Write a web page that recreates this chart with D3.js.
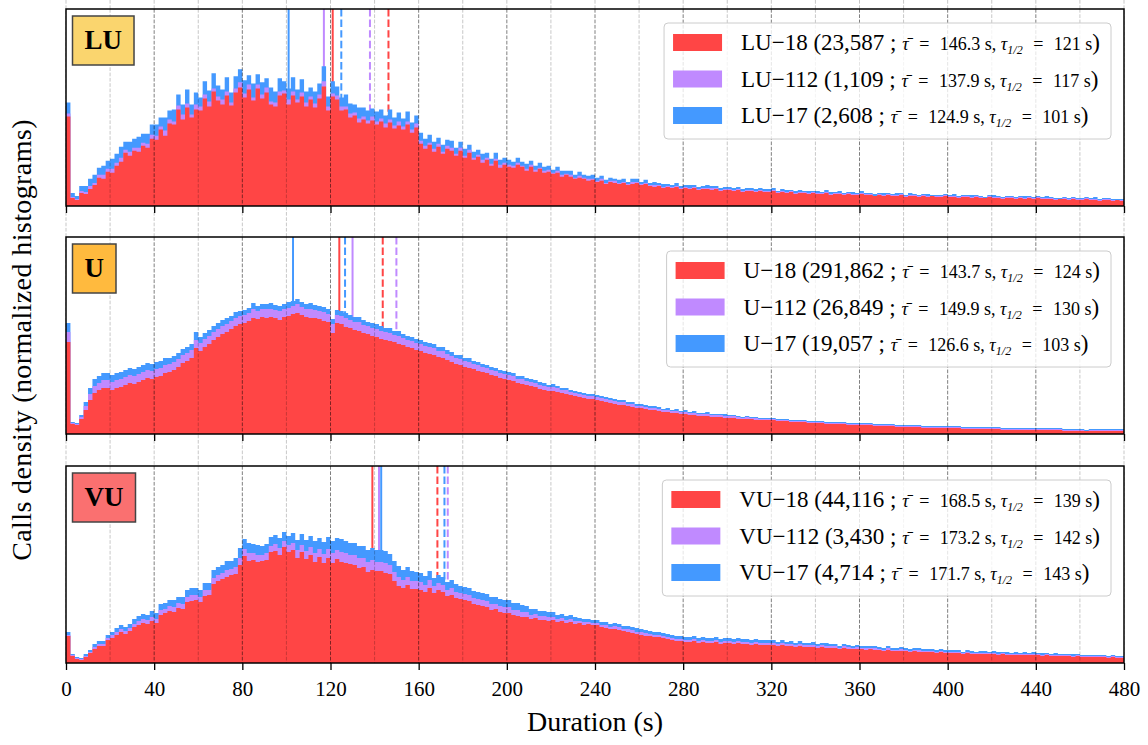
<!DOCTYPE html>
<html><head><meta charset="utf-8">
<script src="https://cdn.jsdelivr.net/npm/d3@7"></script>
<style>
body{margin:0;background:#fff;}
svg text{font-family:"Liberation Serif","Times New Roman",serif;fill:#000;}
</style></head><body>
<svg id="chart" width="1148" height="745"></svg>
<script>
// ---------------- DATA ----------------
const binWidth = 2;               // seconds per histogram bin
const xTicks = [0,40,80,120,160,200,240,280,320,360,400,440,480];
const gridStep = 20;
const groups = ["LU","U","VU"];
const groupColors = ["#fad56e","#ffba3e","#fa7070"];
const seriesColors = ["#ff4545","#c08aff","#4499ff"];
const seriesNames = [["LU−18","LU−112","LU−17"],["U−18","U−112","U−17"],["VU−18","VU−112","VU−17"]];
const seriesCounts = [["23,587","1,109","2,608"],["291,862","26,849","19,057"],["44,116","3,430","4,714"]];
const seriesMeans = [[146.3,137.9,124.9],[143.7,149.9,126.6],[168.5,173.2,171.7]];
const seriesMedians = [[121,117,101],[124,130,103],[139,142,143]];
const yLimits = [196,197,197];    // relative density, axis upper limit

// relative density per 2 s bin (a.u.)
const LU_18 = [
89,8,6,13,12,17,21,28,27,34,33,40,44,53,50,55,54,60,58,67,
66,76,70,82,81,96,86,98,88,96,95,107,99,114,105,101,110,100,113,118,
108,116,105,117,107,113,101,99,110,112,101,110,103,109,99,106,98,107,119,95,
109,106,95,96,88,90,83,86,82,85,81,84,78,83,77,80,76,81,73,78,
62,57,61,54,59,52,57,55,50,55,48,53,46,49,43,46,40,45,38,41,
39,38,41,39,35,39,34,37,33,34,32,33,29,31,29,27,28,27,25,26,
24,25,22,24,23,22,23,21,22,23,21,22,20,19,20,18,19,18,19,17,
18,17,18,16,17,17,16,17,15,16,16,15,16,14,15,15,14,15,14,14,
15,13,14,13,14,12,13,13,12,13,12,12,13,11,12,12,11,12,11,11,
12,11,11,10,11,10,11,10,10,11,9,10,10,9,10,9,10,9,9,10,
9,9,8,9,9,8,9,8,8,9,8,8,7,8,8,7,8,7,8,7,
8,7,7,7,6,7,7,6,7,6,6,7,6,6,5,6,6,5,6,5];
const LU_112 = [
3,1,1,2,2,3,2,3,4,3,4,3,4,3,4,3,4,3,4,4,
4,3,5,4,3,4,5,4,3,5,4,4,5,3,4,5,4,3,4,5,
4,5,3,4,4,5,3,4,4,3,5,4,3,4,4,3,4,4,5,4,
3,4,4,3,4,3,4,3,3,4,3,3,4,3,3,4,3,3,3,4,
3,3,2,3,3,2,3,3,2,3,2,3,2,2,3,2,2,2,3,2,
2,2,2,1,2,2,2,1,2,2,1,2,2,1,2,1,2,1,2,1,
1,2,1,1,2,1,1,1,2,1,1,1,1,2,1,1,1,1,1,1,
1,1,1,1,1,1,2,1,1,1,1,1,1,1,1,1,1,1,1,1,
1,1,1,1,1,1,1,1,1,1,1,1,1,1,1,1,1,1,1,1,
1,1,1,0,1,1,1,1,1,1,1,1,1,1,1,1,0,1,1,1,
1,1,1,1,1,1,1,1,0,1,1,1,1,1,1,1,1,1,1,1,
1,1,1,1,1,0,1,1,1,1,1,1,1,1,1,1,1,1,0,1];
const LU_17 = [
11,4,3,5,6,7,8,7,9,8,10,9,11,8,10,9,11,9,10,10,
11,9,13,9,12,11,10,14,10,12,9,13,11,15,11,10,14,10,12,13,
13,9,14,10,12,9,14,11,13,9,11,14,10,13,11,9,12,11,15,10,
12,9,9,12,10,8,11,9,10,8,10,9,8,10,8,9,8,10,7,8,
8,7,8,7,6,7,6,7,6,6,7,5,6,5,6,5,5,6,5,5,
5,4,5,4,5,4,4,5,4,4,3,4,4,3,4,3,4,3,3,4,
3,3,3,3,2,3,3,2,3,3,2,3,2,3,2,3,2,2,3,2,
2,3,2,2,2,3,2,2,2,2,2,2,2,2,2,2,2,2,2,2,
2,1,2,2,1,2,2,1,2,1,2,1,2,2,1,2,1,1,2,1,
2,1,1,2,1,2,1,1,2,1,1,2,1,1,1,2,1,1,1,1,
1,2,1,1,1,2,1,1,1,1,2,1,1,1,1,1,1,2,1,1,
1,1,2,1,1,1,1,1,1,1,1,1,1,2,1,1,1,1,1,1];

const U_18 = [
92,10,9,15,24,34,41,44,46,46,44,46,47,49,51,50,52,54,56,55,
57,58,61,62,64,67,71,73,76,86,83,87,90,94,97,100,102,105,108,110,
111,113,116,115,117,116,117,116,114,117,118,120,121,119,117,116,116,115,113,112,
101,111,110,107,106,104,103,101,100,98,97,95,94,93,92,90,89,87,86,84,
83,81,80,79,77,76,74,72,70,69,67,66,65,63,62,61,59,58,56,55,
54,53,51,50,49,48,47,45,44,43,43,42,41,40,39,38,37,36,35,35,
34,33,32,31,30,29,29,28,27,26,26,25,24,24,23,22,22,21,21,20,
20,19,19,18,18,18,17,17,17,16,16,16,15,15,15,15,14,14,14,14,
14,13,13,13,12,12,12,12,11,11,11,11,10,10,10,10,10,9,9,9,
9,9,9,8,8,8,8,8,7,7,7,7,7,7,6,6,6,6,6,6,
6,6,6,5,5,5,5,5,5,5,5,5,4,4,4,4,4,4,4,4,
4,4,4,4,4,4,3,3,3,3,3,3,3,3,3,3,3,3,3,3];
const U_112 = [
10,1,1,2,4,6,7,7,8,8,8,8,8,8,8,8,8,8,8,8,
8,8,8,8,8,8,8,8,8,8,8,8,8,8,8,8,8,8,8,8,
8,8,9,8,8,9,8,8,9,8,8,8,9,8,8,9,8,8,9,8,
9,8,8,9,8,8,9,8,8,8,8,8,8,8,7,8,7,7,7,7,
7,7,7,7,6,7,6,6,6,6,6,6,5,6,5,5,5,5,5,5,
5,5,4,5,4,4,4,4,4,4,4,4,3,4,3,3,3,3,3,3,
3,3,3,3,3,3,3,2,3,2,2,2,2,2,2,2,2,2,2,2,
2,2,2,2,2,2,2,2,2,2,2,2,2,1,2,1,2,1,1,1,
1,1,1,1,1,1,1,1,1,1,1,1,1,1,1,1,1,1,1,1,
1,1,1,1,1,1,1,1,1,1,1,1,1,1,1,1,1,1,1,1,
1,1,1,1,1,1,1,1,1,1,1,1,1,1,1,1,1,1,1,1,
1,1,1,1,1,1,1,1,1,1,1,0,1,1,1,1,1,1,1,1];
const U_17 = [
9,1,1,2,4,6,7,7,7,7,7,7,7,7,7,7,7,7,7,7,
7,7,7,6,6,6,6,6,6,8,6,6,6,6,6,6,6,5,6,5,
5,5,6,5,5,5,6,5,5,5,6,5,5,5,5,6,5,5,5,5,
5,5,5,5,5,5,5,5,4,5,5,5,4,5,4,5,4,4,4,4,
4,4,4,4,4,4,4,4,3,4,3,4,3,3,3,3,3,3,3,3,
3,3,3,3,3,3,3,3,3,2,3,2,2,2,2,2,2,2,2,2,
2,2,2,2,2,2,2,2,2,2,2,2,2,2,2,1,2,1,2,1,
2,1,2,1,1,2,1,1,1,2,1,1,1,1,1,1,1,1,1,1,
1,1,1,1,1,1,1,1,1,1,1,1,1,1,1,1,1,1,1,1,
1,1,1,1,1,1,1,1,1,1,1,1,1,1,1,1,1,1,1,1,
1,1,1,1,1,1,1,1,1,1,1,1,1,1,1,1,1,1,1,1,
1,1,1,1,1,1,1,1,1,1,1,1,1,1,1,1,1,1,1,1];

const VU_18 = [
27,7,4,3,6,10,14,17,17,23,25,28,31,29,32,36,38,40,39,42,
40,48,50,52,51,55,54,61,62,63,61,67,68,79,82,84,86,88,89,98,
107,102,103,101,102,103,111,112,108,116,111,113,105,111,104,108,101,106,100,105,
100,104,101,100,99,98,95,96,91,93,92,92,90,89,82,77,75,78,74,74,
73,71,75,70,73,71,67,68,65,64,63,62,59,58,57,56,53,54,51,50,
50,48,47,46,46,44,45,43,43,42,43,41,42,40,41,39,40,38,39,38,
38,36,35,34,34,33,32,31,30,29,28,27,27,26,26,25,24,23,22,22,
21,21,22,20,21,20,20,21,19,20,20,19,20,19,19,18,19,18,18,18,
18,17,18,17,17,16,17,16,16,16,15,16,15,15,15,14,15,14,14,14,
14,13,14,13,13,12,13,12,12,12,12,11,12,11,11,11,11,10,11,10,
10,10,10,9,10,9,9,9,9,9,9,8,9,8,8,8,8,8,8,8,
8,7,8,7,7,7,7,7,6,7,6,6,6,6,6,6,5,6,5,5];
const VU_112 = [
1,1,1,1,1,1,2,2,2,2,3,3,3,3,3,3,4,4,4,4,
4,5,4,5,5,5,5,5,6,5,5,6,5,6,6,6,7,6,7,7,
7,8,7,7,6,7,6,7,7,6,7,7,8,7,8,8,9,8,9,9,
10,9,10,10,9,10,10,9,10,10,9,9,10,9,9,9,8,8,8,8,
8,7,8,7,7,7,6,7,6,6,6,6,6,6,6,6,6,5,6,6,
6,5,6,5,5,4,4,4,4,4,3,3,3,3,3,3,2,3,2,2,
2,2,3,2,3,3,2,3,3,2,3,3,2,2,2,2,2,2,2,2,
2,2,2,2,2,2,2,2,2,2,2,2,2,2,2,2,2,2,2,2,
2,2,2,2,2,2,2,2,2,2,2,2,2,2,2,1,2,2,1,2,
1,2,1,2,1,1,2,1,1,2,1,1,1,2,1,1,1,1,1,1,
1,1,1,1,1,1,1,1,1,1,1,1,1,1,1,1,1,1,1,1,
1,1,1,1,1,1,1,1,1,1,1,1,1,1,1,1,1,1,1,1];
const VU_17 = [
3,1,1,1,2,2,3,3,3,3,3,4,4,4,4,5,5,5,5,6,
6,6,6,6,7,6,7,7,7,7,7,7,7,8,8,8,9,8,9,10,
10,10,9,10,9,9,9,9,10,9,9,10,10,11,11,11,12,11,12,12,
12,12,13,12,12,12,12,12,12,12,12,12,12,11,11,11,10,10,10,9,
9,9,9,8,8,8,8,8,8,7,7,7,7,7,7,7,7,7,7,7,
7,7,7,7,6,6,5,5,5,5,5,4,4,4,4,4,3,3,3,3,
3,3,3,3,3,3,3,3,3,4,3,3,3,3,3,3,3,3,3,3,
3,3,3,3,3,3,3,3,3,3,3,3,3,3,3,3,3,3,3,3,
3,2,3,2,3,2,3,2,2,3,2,2,3,2,2,2,2,2,2,2,
2,2,2,2,2,2,2,2,2,2,2,2,2,2,2,2,2,2,2,2,
2,2,2,1,2,2,1,2,2,1,2,2,1,2,1,2,1,2,1,2,
1,2,1,1,2,1,1,1,2,1,1,1,1,1,1,1,1,1,1,1];

const series = [[LU_18,LU_112,LU_17],[U_18,U_112,U_17],[VU_18,VU_112,VU_17]];

// ---------------- LAYOUT ----------------
const svg = d3.select("#chart");
const x = d3.scaleLinear().domain([0,480]).range([66,1124]);
const panelTops = [9,237,466];
const panelH = 197;
const figBottom = panelTops[2] + panelH;

// figure-wide light dashed lines
svg.append("g").selectAll("line").data(d3.range(0, 481, gridStep)).join("line")
  .attr("x1", d => x(d)).attr("x2", d => x(d))
  .attr("y1", 0).attr("y2", figBottom)
  .attr("stroke", "#000").attr("stroke-opacity", 0.22)
  .attr("stroke-width", 1).attr("stroke-dasharray", "3.7,1.6");

groups.forEach((gname, pi) => {
  const top = panelTops[pi], bottom = top + panelH;
  const y = d3.scaleLinear().domain([0, yLimits[pi]]).range([bottom, top]);
  const g = svg.append("g");

  g.append("rect").attr("x", x(0)).attr("y", top)
    .attr("width", x(480) - x(0)).attr("height", panelH).attr("fill", "#fff");

  // mean (dashed) and median (solid) markers
  seriesColors.forEach((col, k) => {
    g.append("line").attr("x1", x(seriesMedians[pi][k])).attr("x2", x(seriesMedians[pi][k]))
      .attr("y1", top).attr("y2", bottom).attr("stroke", col).attr("stroke-width", 2);
    g.append("line").attr("x1", x(seriesMeans[pi][k])).attr("x2", x(seriesMeans[pi][k]))
      .attr("y1", top).attr("y2", bottom).attr("stroke", col).attr("stroke-width", 2)
      .attr("stroke-dasharray", "7.4,3.2");
  });

  // stacked histogram
  const [s0, s1, s2] = series[pi];
  const rows = s0.map((v, i) => ({t: i * binWidth, a: v, b: s1[i], c: s2[i]}));
  const stacked = d3.stack().keys(["a","b","c"])(rows);
  const nB = rows.length;
  for (let k = 2; k >= 0; k--) {
    const layer = stacked[k];
    const pts = layer.map((d, i) => ({t: rows[i].t, v: d[1]}));
    pts.push({t: nB * binWidth, v: pts[nB - 1].v});
    const area = d3.area().curve(d3.curveStepAfter)
      .x(d => x(d.t)).y0(y(0)).y1(d => y(d.v));
    g.append("path").attr("d", area(pts)).attr("fill", seriesColors[k]);
  }

  // grid lines on top of bars
  g.append("g").selectAll("line").data(d3.range(gridStep, 480, gridStep)).join("line")
    .attr("x1", d => x(d)).attr("x2", d => x(d))
    .attr("y1", top).attr("y2", bottom)
    .attr("stroke", "#000")
    .attr("stroke-opacity", d => (d % 40 === 0) ? 0.5 : 0.22)
    .attr("stroke-width", 1).attr("stroke-dasharray", "3.7,1.6");

  // axis ticks
  const ax = d3.axisBottom(x).tickValues(xTicks).tickSize(7).tickPadding(11);
  if (pi < 2) ax.tickFormat("");
  const axg = g.append("g").attr("transform", `translate(0,${bottom})`).call(ax);
  axg.select(".domain").remove();
  axg.selectAll("line").attr("stroke", "#000").attr("stroke-width", 1.3);
  axg.selectAll("text").attr("font-size", 21).attr("font-family", "Liberation Serif");

  // frame
  g.append("rect").attr("x", x(0)).attr("y", top)
    .attr("width", x(480) - x(0)).attr("height", panelH)
    .attr("fill", "none").attr("stroke", "#000").attr("stroke-width", 1.5);

  // group label box
  const lb = g.append("g");
  const lt = lb.append("text").attr("font-size", 27).attr("font-weight", "bold")
    .attr("text-anchor", "middle").text(gname);
  const tw = lt.node().getComputedTextLength();
  const bw = tw + 24, bx = 72.5, by = top + 7;
  lb.insert("rect", "text").attr("x", bx).attr("y", by).attr("width", bw).attr("height", 49)
    .attr("fill", groupColors[pi]).attr("stroke", "#444").attr("stroke-width", 1.5);
  lt.attr("x", bx + bw / 2).attr("y", by + 32.5);

  // legend
  const lg = g.append("g");
  const box = lg.append("rect");
  const texts = [];
  seriesColors.forEach((col, k) => {
    const t = lg.append("text").attr("font-size", 23);
    t.append("tspan").text(`${seriesNames[pi][k]} (${seriesCounts[pi][k]} ; `);
    t.append("tspan").attr("font-size", 18).attr("font-style", "italic").text("τ̄");
    t.append("tspan").attr("font-size", 18).attr("word-spacing", 6).text(" = ");
    t.append("tspan").attr("font-size", 18).text(`${seriesMeans[pi][k].toFixed(1)} s, `);
    t.append("tspan").attr("font-size", 18).attr("font-style", "italic").text("τ");
    t.append("tspan").attr("font-size", 12).attr("font-style", "italic").attr("dy", 4).text("1/2");
    t.append("tspan").attr("font-size", 18).attr("dy", -4).attr("word-spacing", 6).text(" = ");
    t.append("tspan").attr("font-size", 18).text(`${seriesMedians[pi][k]} s`);
    t.append("tspan").text(")");
    texts.push(t);
  });
  const maxW = d3.max(texts, t => t.node().getComputedTextLength());
  const lw = 77 + maxW + 11, lh = 116;
  const lx = 1111 - lw, ly = top + 14;
  box.attr("x", lx).attr("y", ly).attr("width", lw).attr("height", lh)
    .attr("rx", 4).attr("fill", "#fff").attr("fill-opacity", 0.8)
    .attr("stroke", "#ccc").attr("stroke-width", 1);
  seriesColors.forEach((col, k) => {
    const cy = ly + 19.5 + k * 36.5;
    lg.append("rect").attr("x", lx + 9).attr("y", cy - 8.5).attr("width", 49).attr("height", 17).attr("fill", col);
    texts[k].attr("x", lx + 77).attr("y", cy + 7.5);
  });
});

// axis titles
svg.append("text").attr("x", x(240)).attr("y", 731).attr("text-anchor", "middle")
  .attr("font-size", 28).text("Duration (s)");
svg.append("text").attr("transform", `translate(31,${(panelTops[0] + figBottom) / 2 + 4}) rotate(-90)`)
  .attr("text-anchor", "middle").attr("font-size", 28).attr("letter-spacing", 0.4)
  .text("Calls density (normalized histograms)");
</script>
</body></html>
